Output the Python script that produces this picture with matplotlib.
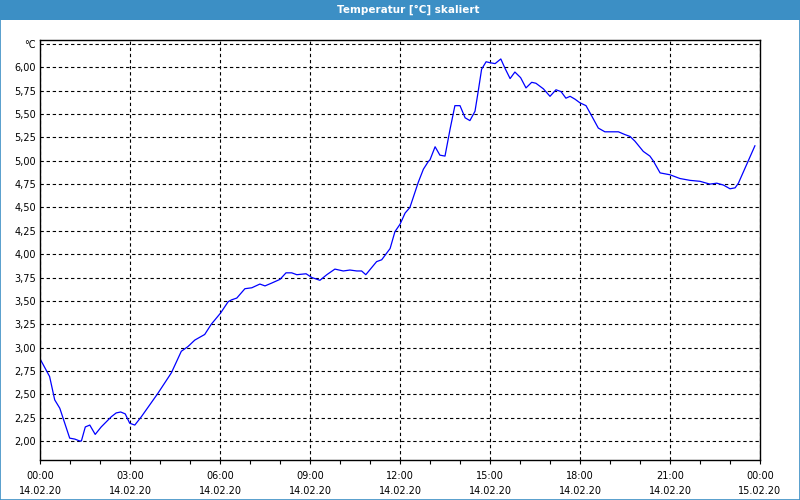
import matplotlib
matplotlib.use("Agg")
import matplotlib.pyplot as plt
from matplotlib.patches import Rectangle
import numpy as np

# hours since 14.02.20 00:00 and temperature in degC
hours = [0.0, 0.32, 0.49, 0.66, 0.99, 1.16, 1.32, 1.38, 1.51, 1.66, 1.84, 2.04,
         2.38, 2.54, 2.69, 2.84, 2.99, 3.16, 3.38, 3.93, 4.38, 4.71, 4.93, 5.16,
         5.49, 5.71, 6.02, 6.27, 6.38, 6.56, 6.83, 7.06, 7.33, 7.50, 7.72, 8.00,
         8.20, 8.39, 8.56, 8.87, 9.06, 9.33, 9.56, 9.83, 10.11, 10.33, 10.56,
         10.72, 10.86, 11.22, 11.39, 11.67, 11.83, 12.00, 12.17, 12.33, 12.61,
         12.78, 12.94, 13.0, 13.17, 13.33, 13.5, 13.67, 13.83, 14.0, 14.17,
         14.33, 14.5, 14.61, 14.72, 14.87, 15.0, 15.17, 15.36, 15.5, 15.67,
         15.83, 16.02, 16.2, 16.39, 16.53, 16.78, 17.0, 17.2, 17.37, 17.53,
         17.67, 17.83, 18.0, 18.2, 18.39, 18.61, 18.83, 19.11, 19.28, 19.5,
         19.67, 19.83, 20.11, 20.33, 20.44, 20.67, 21.0, 21.33, 21.67, 22.0,
         22.33, 22.56, 22.78, 23.0, 23.17, 23.28, 23.61, 23.83]
temps = [2.88, 2.69, 2.44, 2.35, 2.03, 2.02, 2.00, 2.00, 2.15, 2.17, 2.07, 2.15,
         2.26, 2.30, 2.31, 2.29, 2.19, 2.17, 2.26, 2.51, 2.73, 2.96, 3.01, 3.08,
         3.14, 3.25, 3.37, 3.49, 3.51, 3.53, 3.63, 3.64, 3.68, 3.66, 3.69, 3.73,
         3.80, 3.80, 3.78, 3.79, 3.75, 3.72, 3.78, 3.84, 3.82, 3.83, 3.82,
         3.82, 3.78, 3.92, 3.94, 4.06, 4.24, 4.32, 4.44, 4.50, 4.77,
         4.91, 4.99, 5.01, 5.15, 5.06, 5.05, 5.34, 5.59, 5.59, 5.46,
         5.43, 5.53, 5.75, 5.98, 6.06, 6.05, 6.04, 6.09, 5.99, 5.88,
         5.95, 5.89, 5.78, 5.84, 5.83, 5.77, 5.69, 5.76, 5.74, 5.67,
         5.69, 5.66, 5.62, 5.59, 5.48, 5.35, 5.31, 5.31, 5.31, 5.28,
         5.26, 5.21, 5.10, 5.05, 5.00, 4.87, 4.85, 4.81, 4.79, 4.78,
         4.75, 4.76, 4.74, 4.70, 4.71, 4.76, 5.00, 5.16]

x_ticks = [0, 3, 6, 9, 12, 15, 18, 21, 24]
x_labels = ["00:00\n14.02.20", "03:00\n14.02.20", "06:00\n14.02.20",
            "09:00\n14.02.20", "12:00\n14.02.20", "15:00\n14.02.20",
            "18:00\n14.02.20", "21:00\n14.02.20", "00:00\n15.02.20"]
y_ticks = [2.00, 2.25, 2.50, 2.75, 3.00, 3.25, 3.50, 3.75, 4.00, 4.25, 4.50,
           4.75, 5.00, 5.25, 5.50, 5.75, 6.00, 6.25]
y_labels = ["2,00", "2,25", "2,50", "2,75", "3,00", "3,25", "3,50", "3,75",
            "4,00", "4,25", "4,50", "4,75", "5,00", "5,25", "5,50", "5,75",
            "6,00", "°C"]

bar_blue = "#3c8fc5"

fig = plt.figure(figsize=(8, 5), dpi=100)
fig.patch.set_facecolor("white")

# title bar and frame
fig.patches.append(Rectangle((0, 480 / 500), 1, 20 / 500, transform=fig.transFigure,
                             facecolor=bar_blue, edgecolor="none", zorder=0))
fig.patches.append(Rectangle((0.0006, 0.001), 0.9988, 0.998, transform=fig.transFigure,
                             facecolor="none", edgecolor=bar_blue, lw=1.2, zorder=1))
fig.text(408 / 800, 490 / 500, "Temperatur [°C] skaliert", color="white",
         fontsize=7.5, fontweight="bold", ha="center", va="center")

ax = fig.add_axes([40 / 800, 40 / 500, 720 / 800, 420 / 500])
ax.plot(hours, temps, color="#0000ff", lw=0.9)

ax.set_xlim(0, 24)
ax.set_ylim(1.796, 6.293)
ax.set_xticks(x_ticks)
ax.set_xticklabels(x_labels, fontsize=7, linespacing=1.65)
ax.set_xticks(np.arange(0, 25, 1), minor=True)
ax.set_yticks(y_ticks)
ax.set_yticklabels(y_labels, fontsize=7)

ax.tick_params(axis="x", which="both", length=3, width=0.8, pad=5, color="black")
ax.tick_params(axis="y", length=0, pad=3)
ax.grid(True, color="black", lw=0.8, linestyle=(0, (3, 2.5)))
ax.set_axisbelow(True)
for s in ax.spines.values():
    s.set_linewidth(1.0)

fig.savefig("out.png", dpi=100)
